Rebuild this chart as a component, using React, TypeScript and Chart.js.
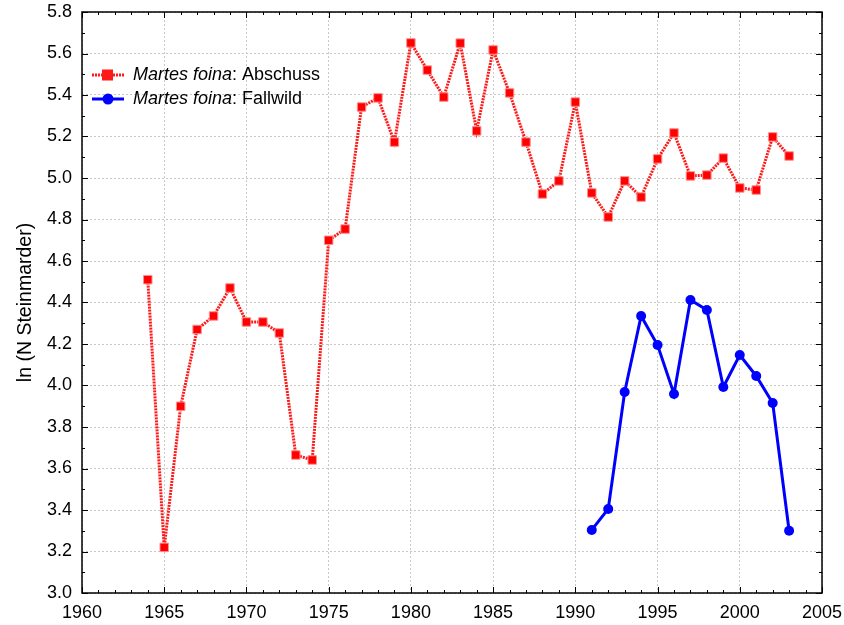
import React, { useEffect, useRef } from "react";
import { Chart, registerables } from "chart.js";

Chart.register(...registerables);

const years: number[] = [
  1964, 1965, 1966, 1967, 1968, 1969, 1970, 1971, 1972, 1973, 1974, 1975, 1976, 1977, 1978, 1979,
  1980, 1981, 1982, 1983, 1984, 1985, 1986, 1987, 1988, 1989, 1990, 1991, 1992, 1993, 1994, 1995,
  1996, 1997, 1998, 1999, 2000, 2001, 2002, 2003,
];
const abschuss: number[] = [
  4.51, 3.22, 3.9, 4.27, 4.335, 4.47, 4.306, 4.306, 4.253, 3.665, 3.641, 4.7, 4.754, 5.342, 5.386, 5.173,
  5.651, 5.52, 5.39, 5.65, 5.227, 5.617, 5.41, 5.173, 4.923, 4.986, 5.366, 4.928, 4.812, 4.986, 4.908, 5.092,
  5.217, 5.01, 5.014, 5.096, 4.952, 4.942, 5.198, 5.106,
];
const fallwildYears: number[] = [1991, 1992, 1993, 1994, 1995, 1996, 1997, 1998, 1999, 2000, 2001, 2002, 2003];
const fallwild: number[] = [3.304, 3.405, 3.969, 4.335, 4.195, 3.959, 4.412, 4.364, 3.993, 4.147, 4.046, 3.916, 3.3];

const seriesNames: string[] = ["Abschuss", "Fallwild"];
const speciesName = "Martes foina";
const yTitle = "ln (N Steinmarder)";
const xMin = 1960, xMax = 2005, xStep = 5;
const yMin = 3.0, yMax = 5.8, yStep = 0.2;

const RED = "#ff1a1a";
const BLUE = "#0000ff";
const FONT = "Liberation Sans, Arial, sans-serif";

const framePlugin = {
  id: "frameTicks",
  afterDraw(chart: any) {
    const { ctx, chartArea: a, scales } = chart;
    const xs = scales.x, ys = scales.y;
    ctx.save();
    ctx.strokeStyle = "#000";
    ctx.lineWidth = 1.5;
    ctx.strokeRect(a.left, a.top, a.right - a.left, a.bottom - a.top);
    ctx.lineWidth = 1;
    ctx.beginPath();
    for (let v = xMin; v <= xMax; v += 1) {
      const px = Math.round(xs.getPixelForValue(v)) + 0.5;
      const len = v % xStep === 0 ? 6 : 3;
      ctx.moveTo(px, a.bottom); ctx.lineTo(px, a.bottom - len);
      ctx.moveTo(px, a.top); ctx.lineTo(px, a.top + len);
    }
    for (let i = 0; i <= Math.round((yMax - yMin) / 0.1); i++) {
      const v = yMin + i * 0.1;
      const py = Math.round(ys.getPixelForValue(v)) + 0.5;
      const len = i % 2 === 0 ? 6 : 3;
      ctx.moveTo(a.left, py); ctx.lineTo(a.left + len, py);
      ctx.moveTo(a.right, py); ctx.lineTo(a.right - len, py);
    }
    ctx.stroke();

    // legend
    const lx = a.left + 10;
    const rows = [
      { y: a.top + 63, color: RED, dash: [2, 1], pt: "rect", name: seriesNames[0] },
      { y: a.top + 87, color: BLUE, dash: [], pt: "circle", name: seriesNames[1] },
    ];
    for (const r of rows) {
      ctx.strokeStyle = r.color;
      ctx.lineWidth = 3;
      ctx.setLineDash(r.dash);
      ctx.beginPath();
      ctx.moveTo(lx, r.y); ctx.lineTo(lx + 32, r.y);
      ctx.stroke();
      ctx.setLineDash([]);
      ctx.fillStyle = r.color;
      if (r.pt === "rect") {
        ctx.fillRect(lx + 10, r.y - 5.5, 11, 11);
      } else {
        ctx.beginPath(); ctx.arc(lx + 16, r.y, 5.5, 0, Math.PI * 2); ctx.fill();
      }
      ctx.fillStyle = "#000";
      ctx.textBaseline = "middle";
      ctx.textAlign = "left";
      ctx.font = `italic 18px ${FONT}`;
      const tx = lx + 41;
      ctx.fillText(speciesName, tx, r.y);
      const w = ctx.measureText(speciesName).width;
      ctx.font = `18px ${FONT}`;
      ctx.fillText(": " + r.name, tx + w, r.y);
    }
    ctx.restore();
  },
};

export default function App() {
  const ref = useRef<HTMLCanvasElement>(null);
  useEffect(() => {
    if (!ref.current) return;
    const chart = new Chart(ref.current, {
      type: "line",
      data: {
        datasets: [
          {
            label: seriesNames[0],
            data: years.map((y, i) => ({ x: y, y: abschuss[i] })),
            borderColor: RED,
            borderWidth: 3,
            borderDash: [2, 1],
            backgroundColor: "#ff0000",
            pointStyle: "rect",
            pointRadius: 6,
            pointBorderColor: "#ff9090",
            pointBorderWidth: 1,
            pointBackgroundColor: "#ff0000",
            tension: 0,
          },
          {
            label: seriesNames[1],
            data: fallwildYears.map((y, i) => ({ x: y, y: fallwild[i] })),
            borderColor: BLUE,
            borderWidth: 3,
            backgroundColor: BLUE,
            pointStyle: "circle",
            pointRadius: 5,
            pointBorderWidth: 0,
            pointBackgroundColor: BLUE,
            tension: 0,
          },
        ],
      },
      options: {
        animation: false,
        responsive: false,
        maintainAspectRatio: false,
        layout: { padding: { left: 0, top: 12, right: 22, bottom: 0 } },
        plugins: { legend: { display: false }, tooltip: { enabled: false } },
        scales: {
          x: {
            type: "linear",
            min: xMin,
            max: xMax,
            afterFit: (s: any) => { s.height = 32; s.paddingLeft = 0; s.paddingRight = 0; },
            ticks: {
              stepSize: xStep,
              color: "#000",
              font: { family: FONT, size: 18 },
              padding: 9,
              maxRotation: 0,
              callback: (v: any) => String(v),
            },
            grid: { color: "#c8c8c8", lineWidth: 1, drawTicks: false },
            border: { display: false, dash: [2, 2] },
          },
          y: {
            type: "linear",
            min: yMin,
            max: yMax,
            afterFit: (s: any) => { s.width = 82; s.paddingTop = 0; s.paddingBottom = 0; },
            ticks: {
              stepSize: yStep,
              color: "#000",
              font: { family: FONT, size: 18 },
              padding: 10,
              callback: (v: any) => Number(v).toFixed(1),
            },
            title: {
              display: true,
              text: yTitle,
              color: "#000",
              font: { family: FONT, size: 19.5 },
              padding: { top: 14, bottom: 0 },
            },
            grid: { color: "#c8c8c8", lineWidth: 1, drawTicks: false },
            border: { display: false, dash: [2, 2] },
          },
        },
      },
      plugins: [framePlugin],
    });
    return () => chart.destroy();
  }, []);
  return (
    <div style={{ position: "absolute", left: 0, top: 0, width: 844, height: 625, background: "#fff" }}>
      <canvas ref={ref} width={844} height={625} style={{ width: 844, height: 625 }} />
    </div>
  );
}
